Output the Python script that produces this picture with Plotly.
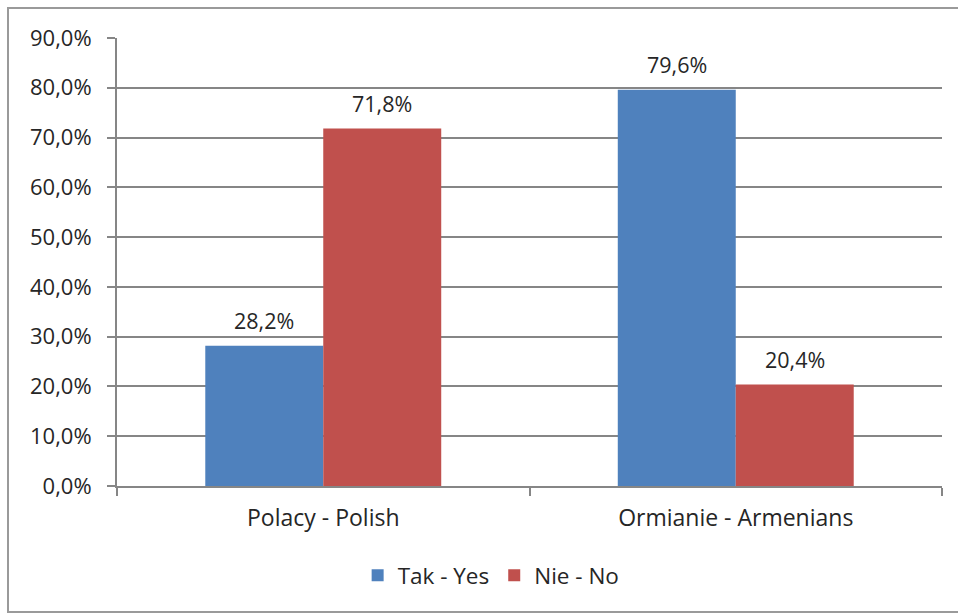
import plotly.graph_objects as go

categories = ["Polacy - Polish", "Ormianie - Armenians"]
series_names = ["Tak - Yes", "Nie - No"]
yes_values = [0.282, 0.796]
no_values = [0.718, 0.204]
colors = ["#4F81BD", "#C0504D"]
tick_vals = [0.0, 0.1, 0.2, 0.3, 0.4, 0.5, 0.6, 0.7, 0.8, 0.9]

FONT = "'Open Sans', sans-serif"
TXT = "#262626"
fig = go.Figure()
for name, vals, col in zip(series_names, [yes_values, no_values], colors):
    fig.add_trace(go.Bar(x=categories, y=vals, name=name, marker=dict(color=col, line=dict(width=0))))

# data labels
offsets = [-0.5, 0.5]
for off, vals in zip(offsets, [yes_values, no_values]):
    for i, v in enumerate(vals):
        fig.add_annotation(x=i + off * 0.2861, y=v, text=f"{v*100:.1f}%".replace(".", ","),
                           showarrow=False, yshift=25, xref="x", yref="y",
                           font=dict(family=FONT, size=21.5, color=TXT))

# outer border
fig.add_shape(type="rect", xref="paper", yref="paper",
              x0=(8 - 117) / 825, x1=(962 - 117) / 825,
              y0=(486 - 612) / 448, y1=(486 - 8) / 448,
              line=dict(color="#9a9a9a", width=2), fillcolor="rgba(0,0,0,0)", layer="below")

fig.update_layout(
    width=958, height=615,
    margin=dict(l=117, r=16, t=38, b=129),
    paper_bgcolor="white", plot_bgcolor="white",
    separators=", ",
    barmode="group", bargap=0.428, bargroupgap=0,
    font=dict(family=FONT, size=22, color=TXT),
    showlegend=True,
    legend=dict(orientation="h", x=0.4535, xanchor="center", y=-0.2, yanchor="middle",
                font=dict(family=FONT, size=22.5, color=TXT), itemwidth=30,
                traceorder="normal", itemclick=False),
)
fig.update_xaxes(type="category", range=[-0.5, 1.5], showline=True, linecolor="#868686", linewidth=2,
                 ticks="outside", tickson="boundaries", ticklen=8, tickcolor="#868686", tickwidth=2,
                 ticklabelstandoff=10,
                 showgrid=False, tickfont=dict(family=FONT, size=23, color=TXT))
fig.update_yaxes(range=[0, 0.9], tickvals=tick_vals, tickformat=".1%", showline=True,
                 linecolor="#868686", linewidth=2, ticks="outside", ticklen=8, tickcolor="#868686",
                 tickwidth=2, showgrid=True, gridcolor="#868686", gridwidth=2, zeroline=False,
                 ticklabelstandoff=11,
                 tickfont=dict(family=FONT, size=22, color=TXT))

fig.write_html("out.html")
